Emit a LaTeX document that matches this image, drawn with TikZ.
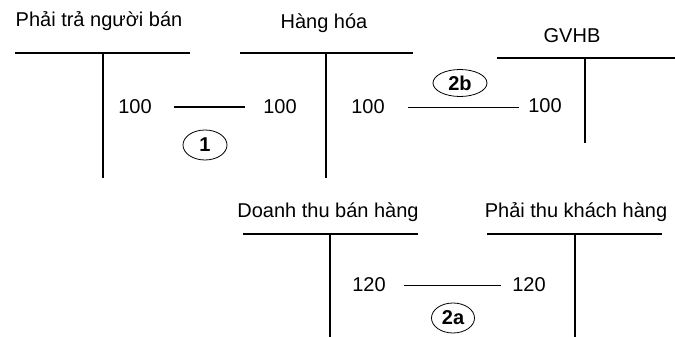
\documentclass[tikz,border=0pt]{standalone}
\usepackage{fontspec}
\setmainfont{Liberation Sans}
\usetikzlibrary{shapes.geometric}
\begin{document}
\begin{tikzpicture}[x=1pt,y=-1pt,
  txt/.style={font=\fontsize{20}{24}\selectfont, inner sep=0pt},
  ttl/.style={txt, anchor=base},
  amt/.style={txt, anchor=center},
  tag/.style={inner sep=0pt, font=\fontsize{20}{24}\selectfont\bfseries},
  ring/.style={line width=0.8pt},
  hline/.style={line width=1.3pt},
  vline/.style={line width=1.9pt},
  thinlink/.style={line width=0.9pt},
  thicklink/.style={line width=1.8pt}]
\useasboundingbox (0,0) rectangle (675,337);

% --- Phai tra nguoi ban
\node[ttl] (t1) at (99,27) {Phải trả người bán};
\coordinate (h1a) at (15,53);
\coordinate (h1b) at (190,53);
\coordinate (v1a) at (103,53);
\coordinate (v1b) at (103,178);
\draw[hline] (h1a) -- (h1b);
\draw[vline] (v1a) -- (v1b);

% --- Hang hoa
\node[ttl] (t2) at (324,29) {Hàng hóa};
\coordinate (h2a) at (240,53);
\coordinate (h2b) at (413,53);
\coordinate (v2a) at (326,53);
\coordinate (v2b) at (326,178);
\draw[hline] (h2a) -- (h2b);
\draw[vline] (v2a) -- (v2b);

% --- GVHB
\node[ttl] (t3) at (572,43) {GVHB};
\coordinate (h3a) at (497,58);
\coordinate (h3b) at (675,58);
\coordinate (v3a) at (585,58);
\coordinate (v3b) at (585,143);
\draw[hline] (h3a) -- (h3b);
\draw[vline] (v3a) -- (v3b);

% --- Doanh thu ban hang
\node[ttl] (t4) at (328,217) {Doanh thu bán hàng};
\coordinate (h4a) at (243,234);
\coordinate (h4b) at (418,234);
\coordinate (v4a) at (330,234);
\coordinate (v4b) at (330,337);
\draw[hline] (h4a) -- (h4b);
\draw[vline] (v4a) -- (v4b);

% --- Phai thu khach hang
\node[ttl] (t5) at (576,217) {Phải thu khách hàng};
\coordinate (h5a) at (487,234);
\coordinate (h5b) at (662,234);
\coordinate (v5a) at (575,234);
\coordinate (v5b) at (575,337);
\draw[hline] (h5a) -- (h5b);
\draw[vline] (v5a) -- (v5b);

% --- amounts
\node[amt] (a1) at (135,107) {100};
\node[amt] (a2) at (280,107) {100};
\node[amt] (a3) at (368,107) {100};
\node[amt] (a4) at (545,106) {100};
\node[amt] (b1) at (369,285) {120};
\node[amt] (b2) at (529,285) {120};

% --- connectors
\draw[thicklink, shorten <=22pt, shorten >=18pt] (a1.east) -- (a2.west);
\draw[thinlink, shorten <=23pt, shorten >=9pt] (a3.east) -- (a4.west |- a3.west);
\draw[thinlink, shorten <=18pt, shorten >=11pt] (b1.east) -- (b2.west);

% --- tags
\node[tag] (e1) at (205,145) {1};
\draw[ring] (e1.center) ellipse [x radius=22, y radius=15];
\node[tag] (e2) at (460,83) {2b};
\draw[ring] (e2.center) ellipse [x radius=27, y radius=13.5];
\node[tag] (e3) at (453,318) {2a};
\draw[ring] (e3.center) ellipse [x radius=21.5, y radius=15];
\end{tikzpicture}
\end{document}
